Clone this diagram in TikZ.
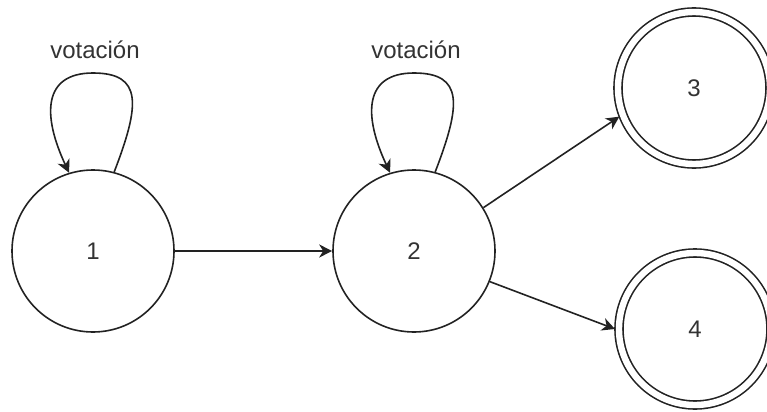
\documentclass[tikz,border=0pt]{standalone}
\usepackage{fontspec}
\setmainfont{Liberation Sans}
\usetikzlibrary{arrows,arrows.meta}
\definecolor{linie}{RGB}{34,34,34}
\definecolor{schrift}{RGB}{51,51,51}

\begin{document}
\begin{tikzpicture}[x=0.5pt, y=-0.5pt, linie, line width=0.8pt,
    font=\fontsize{12}{14}\selectfont,
    state/.style={draw, circle, minimum size=81pt, inner sep=0pt, text=schrift},
    final/.style={state, minimum size=76pt, double, double distance=3.2pt, outer sep=2pt},
    pfeil/.style={-{Stealth[length=6.5pt,width=6.5pt,inset=2pt]}}]
    \useasboundingbox (0,0) rectangle (767,412);

    \node[state] (s1) at (93,251) {1};
    \node[text=schrift] (v1) at (95,50) {votación};
    \draw[pfeil] (s1.75) .. controls (140,105) and (143,73) .. (93,73) .. controls (43,73) and (42,115) .. (s1.107);

    \node[state] (s2) at (414,251) {2};
    \node[text=schrift] (v2) at (416,50) {votación};
    \draw[pfeil] (s2.75) .. controls (461,105) and (464,73) .. (414,73) .. controls (364,73) and (363,115) .. (s2.107);

    \draw[pfeil] (s1.east) -- (s2.west);

    \node[final] (s3) at (694,88) {3};
    \node[final] (s4) at (695,329) {4};

    \draw[pfeil] (s2.32) -- (s3.-159);
    \draw[pfeil] (s2.-22) -- (s4.west);

\end{tikzpicture}
\end{document}
